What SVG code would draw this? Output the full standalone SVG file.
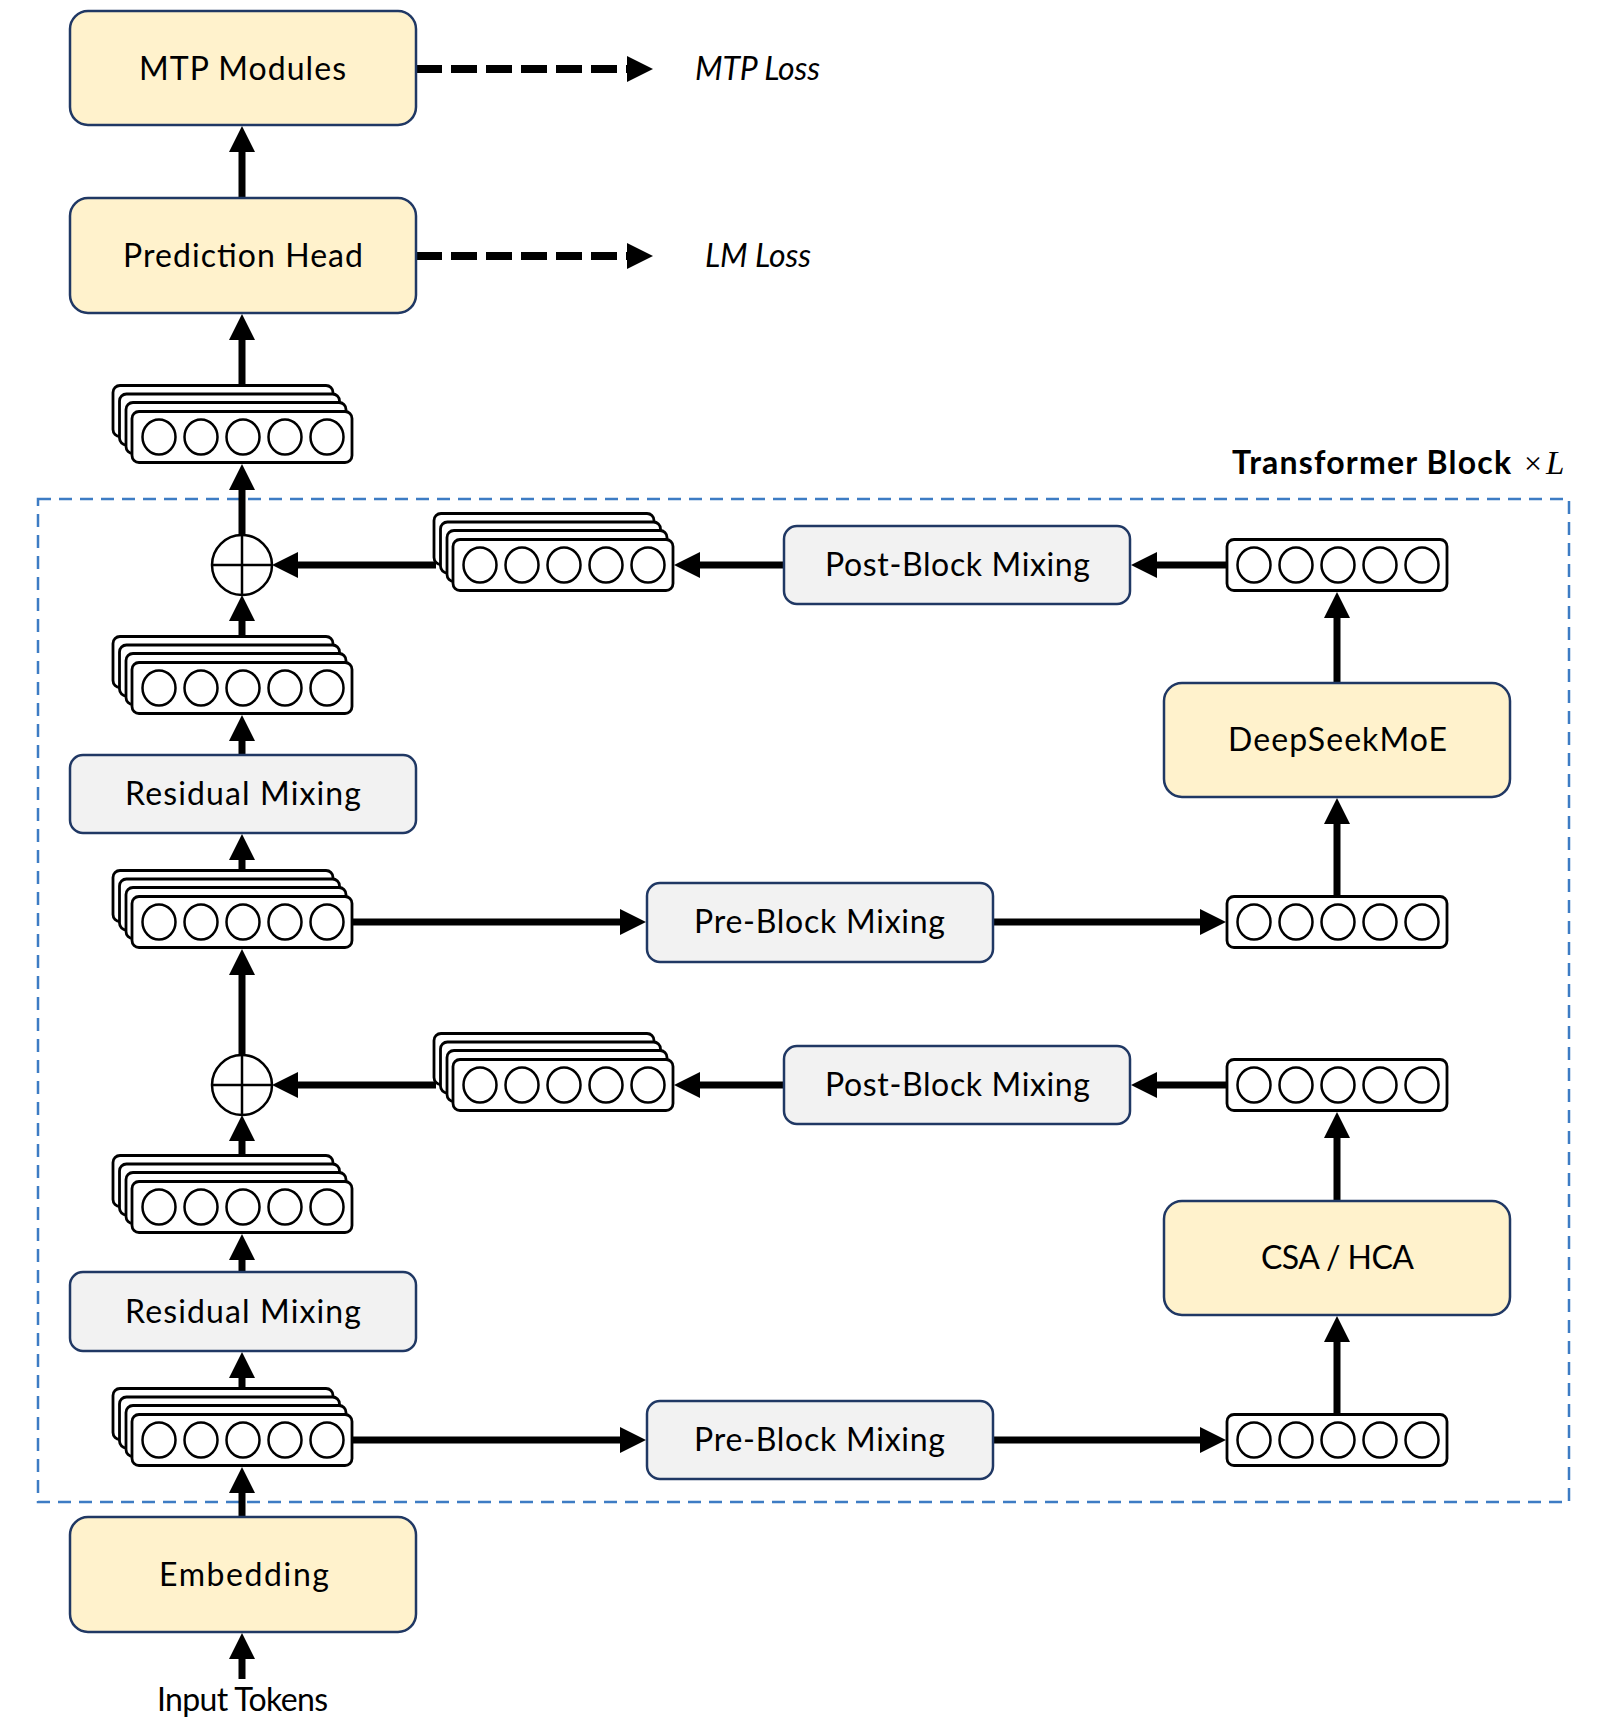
<svg xmlns="http://www.w3.org/2000/svg" width="1600" height="1729" viewBox="0 0 1600 1729">
<style>
.box{stroke:#203864;stroke-width:2.5}
.yel{fill:#FFF2CC}
.gry{fill:#F2F2F2}
.lbl{font-family:Lato,"Open Sans","Liberation Sans",sans-serif;font-size:32px;fill:#000}
.it{font-style:italic}
.bd{font-weight:bold}
.vr{fill:#fff;stroke:#000;stroke-width:2.8}
.ci{fill:#fff;stroke:#000;stroke-width:2.5}
.ar{stroke:#000;stroke-width:7;fill:none;marker-end:url(#ah)}
.da{stroke-width:8;stroke-dasharray:26 9}
.pl{fill:#fff;stroke:#000;stroke-width:2.5}
.cr{stroke:#000;stroke-width:2.5}
</style>
<defs>
<marker id="ah" markerUnits="userSpaceOnUse" markerWidth="26" markerHeight="26" viewBox="0 0 26 26" refX="11" refY="13" orient="auto"><path d="M0,0 L26,13 L0,26 z" fill="#000"/></marker>
<g id="vec">
<rect class="vr" x="0" y="-25.5" width="220" height="51" rx="7"/>
<ellipse class="ci" cx="27" cy="0" rx="16.5" ry="17.5"/>
<ellipse class="ci" cx="69" cy="0" rx="16.5" ry="17.5"/>
<ellipse class="ci" cx="111" cy="0" rx="16.5" ry="17.5"/>
<ellipse class="ci" cx="153" cy="0" rx="16.5" ry="17.5"/>
<ellipse class="ci" cx="195" cy="0" rx="16.5" ry="17.5"/>
</g>
<g id="stack">
<rect class="vr" x="-19" y="-51.5" width="220" height="51" rx="7"/>
<rect class="vr" x="-12.5" y="-43" width="220" height="51" rx="7"/>
<rect class="vr" x="-6" y="-34.5" width="220" height="51" rx="7"/>
<use href="#vec"/>
</g>
</defs>
<rect width="1600" height="1729" fill="#fff"/>

<g id="transformer-block">
<rect x="38" y="499" width="1531" height="1003" fill="none" stroke="#3D7CC4" stroke-width="2.5" stroke-dasharray="13 8"/>
<text class="lbl bd" x="1232" y="474" textLength="279">Transformer Block</text>
<text x="1524" y="474" font-family="'Liberation Serif',serif" font-size="32">×</text>
<text x="1546" y="474" font-family="'Liberation Serif',serif" font-size="33" font-style="italic">L</text>
</g>

<g id="connectors">
<line class="ar da" x1="416" y1="69" x2="638" y2="69"/>
<line class="ar da" x1="416" y1="256" x2="638" y2="256"/>
<line class="ar" x1="242" y1="198" x2="242" y2="141"/>
<line class="ar" x1="242" y1="386" x2="242" y2="329"/>
<line class="ar" x1="242" y1="535" x2="242" y2="479"/>
<line class="ar" x1="242" y1="637" x2="242" y2="610"/>
<line class="ar" x1="242" y1="755" x2="242" y2="730"/>
<line class="ar" x1="242" y1="871" x2="242" y2="849"/>
<line class="ar" x1="242" y1="1055" x2="242" y2="964"/>
<line class="ar" x1="242" y1="1156" x2="242" y2="1130"/>
<line class="ar" x1="242" y1="1272" x2="242" y2="1249"/>
<line class="ar" x1="242" y1="1389" x2="242" y2="1367"/>
<line class="ar" x1="242" y1="1517" x2="242" y2="1482"/>
<line class="ar" x1="242" y1="1679" x2="242" y2="1648"/>
<line class="ar" x1="352" y1="922" x2="631" y2="922"/>
<line class="ar" x1="993" y1="922" x2="1211" y2="922"/>
<line class="ar" x1="1337" y1="896" x2="1337" y2="813"/>
<line class="ar" x1="1337" y1="683" x2="1337" y2="607"/>
<line class="ar" x1="1227" y1="565" x2="1146" y2="565"/>
<line class="ar" x1="784" y1="565" x2="689" y2="565"/>
<line class="ar" x1="436" y1="565" x2="287" y2="565"/>
<line class="ar" x1="352" y1="1440" x2="631" y2="1440"/>
<line class="ar" x1="993" y1="1440" x2="1211" y2="1440"/>
<line class="ar" x1="1337" y1="1414" x2="1337" y2="1331"/>
<line class="ar" x1="1337" y1="1201" x2="1337" y2="1127"/>
<line class="ar" x1="1227" y1="1085" x2="1146" y2="1085"/>
<line class="ar" x1="784" y1="1085" x2="689" y2="1085"/>
<line class="ar" x1="436" y1="1085" x2="287" y2="1085"/>
</g>

<g id="mtp-modules">
<rect class="box yel" x="70" y="11" width="346" height="114" rx="18"/>
<text class="lbl" x="139" y="80" textLength="207">MTP Modules</text>
</g>
<g id="mtp-loss"><text class="lbl it" x="695" y="80" textLength="125">MTP Loss</text></g>

<g id="prediction-head">
<rect class="box yel" x="70" y="198" width="346" height="115" rx="18"/>
<text class="lbl" x="123" y="267" textLength="240">Prediction Head</text>
</g>
<g id="lm-loss"><text class="lbl it" x="705" y="267" textLength="106">LM Loss</text></g>

<g id="stack-out"><use href="#stack" x="132" y="437"/></g>

<g id="plus-1">
<circle class="pl" cx="242" cy="565" r="30"/>
<line class="cr" x1="212" y1="565" x2="272" y2="565"/>
<line class="cr" x1="242" y1="535" x2="242" y2="595"/>
</g>
<g id="stack-post-1"><use href="#stack" x="453" y="565"/></g>
<g id="post-block-mixing-1">
<rect class="box gry" x="784" y="526" width="346" height="78" rx="13"/>
<text class="lbl" x="825" y="576" textLength="265">Post-Block Mixing</text>
</g>
<g id="vec-moe-out"><use href="#vec" x="1227" y="565"/></g>
<g id="deepseekmoe">
<rect class="box yel" x="1164" y="683" width="346" height="114" rx="18"/>
<text class="lbl" x="1228" y="751" textLength="219">DeepSeekMoE</text>
</g>
<g id="stack-res-1"><use href="#stack" x="132" y="688"/></g>
<g id="residual-mixing-1">
<rect class="box gry" x="70" y="755" width="346" height="78" rx="13"/>
<text class="lbl" x="125" y="805" textLength="236">Residual Mixing</text>
</g>
<g id="stack-in-1"><use href="#stack" x="132" y="922"/></g>
<g id="pre-block-mixing-1">
<rect class="box gry" x="647" y="883" width="346" height="79" rx="13"/>
<text class="lbl" x="694" y="933" textLength="251">Pre-Block Mixing</text>
</g>
<g id="vec-moe-in"><use href="#vec" x="1227" y="922"/></g>

<g id="plus-2">
<circle class="pl" cx="242" cy="1085" r="30"/>
<line class="cr" x1="212" y1="1085" x2="272" y2="1085"/>
<line class="cr" x1="242" y1="1055" x2="242" y2="1115"/>
</g>
<g id="stack-post-2"><use href="#stack" x="453" y="1085"/></g>
<g id="post-block-mixing-2">
<rect class="box gry" x="784" y="1046" width="346" height="78" rx="13"/>
<text class="lbl" x="825" y="1096" textLength="265">Post-Block Mixing</text>
</g>
<g id="vec-attn-out"><use href="#vec" x="1227" y="1085"/></g>
<g id="csa-hca">
<rect class="box yel" x="1164" y="1201" width="346" height="114" rx="18"/>
<text class="lbl" x="1261" y="1269" textLength="153">CSA / HCA</text>
</g>
<g id="stack-res-2"><use href="#stack" x="132" y="1207"/></g>
<g id="residual-mixing-2">
<rect class="box gry" x="70" y="1272" width="346" height="79" rx="13"/>
<text class="lbl" x="125" y="1323" textLength="236">Residual Mixing</text>
</g>
<g id="stack-in-2"><use href="#stack" x="132" y="1440"/></g>
<g id="pre-block-mixing-2">
<rect class="box gry" x="647" y="1401" width="346" height="78" rx="13"/>
<text class="lbl" x="694" y="1451" textLength="251">Pre-Block Mixing</text>
</g>
<g id="vec-attn-in"><use href="#vec" x="1227" y="1440"/></g>

<g id="embedding">
<rect class="box yel" x="70" y="1517" width="346" height="115" rx="18"/>
<text class="lbl" x="159" y="1586" textLength="170">Embedding</text>
</g>
<g id="input-tokens"><text class="lbl" x="157" y="1711" textLength="171">Input Tokens</text></g>
</svg>
